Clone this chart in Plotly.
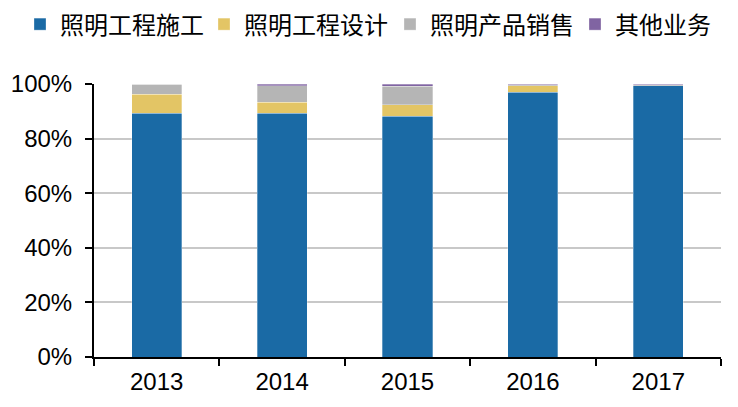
import plotly.graph_objects as go

years = ["2013", "2014", "2015", "2016", "2017"]
construction = [89.3, 89.3, 88.2, 97.0, 99.3]
design = [6.9, 4.0, 4.2, 2.3, 0.1]
product_sales = [3.8, 6.0, 6.8, 0.4, 0.3]
other = [0.0, 0.7, 0.8, 0.3, 0.3]

series_names = ["照明工程施工", "照明工程设计", "照明产品销售", "其他业务"]
colors = ["#1A6AA5", "#E3C565", "#B5B5B5", "#8064A2"]
y_ticks = [0, 20, 40, 60, 80, 100]
y_tick_labels = ["0%", "20%", "40%", "60%", "80%", "100%"]

legend_ids = ["legend", "legend2", "legend3", "legend4"]
legend_x_px = [20, 204, 390, 575]

fig = go.Figure()
for name, vals, col, lid in zip(series_names, [construction, design, product_sales, other], colors, legend_ids):
    fig.add_trace(go.Bar(
        x=years, y=vals, name=name, legend=lid,
        marker=dict(color=col, line=dict(color="rgba(255,255,255,0.6)", width=0.5)),
    ))

legend_common = dict(
    orientation="h",
    xref="container", yref="container",
    y=0.995, xanchor="left", yanchor="top",
    font=dict(family="Noto Sans CJK SC", size=24, color="black"),
    itemwidth=30,
    bgcolor="rgba(0,0,0,0)",
)
layout_legends = {}
for lid, px in zip(legend_ids, legend_x_px):
    layout_legends[lid] = dict(legend_common, x=px / 738)

fig.update_layout(
    barmode="stack",
    bargap=0.6,
    width=738, height=407,
    margin=dict(l=94, r=17, t=84, b=50),
    paper_bgcolor="white",
    plot_bgcolor="white",
    font=dict(family="Liberation Sans, Arial, sans-serif", color="black"),
    showlegend=True,
    **layout_legends,
)
fig.update_xaxes(
    showline=True, linecolor="black", linewidth=2,
    ticks="outside", tickson="boundaries", ticklen=7, tickwidth=2, tickcolor="black",
    tickfont=dict(size=24, family="Liberation Sans, Arial, sans-serif"),
    ticklabelstandoff=2,
    showgrid=False,
)
fig.update_yaxes(
    range=[0, 100],
    tickvals=y_ticks, ticktext=y_tick_labels,
    showline=True, linecolor="black", linewidth=2,
    ticks="outside", ticklen=7, tickwidth=2, tickcolor="black",
    tickfont=dict(size=24, family="Liberation Sans, Arial, sans-serif"),
    ticklabelstandoff=8,
    showgrid=True, gridcolor="#C8C8C8", gridwidth=1.5,
    zeroline=False,
)

fig.write_html("out.html")
